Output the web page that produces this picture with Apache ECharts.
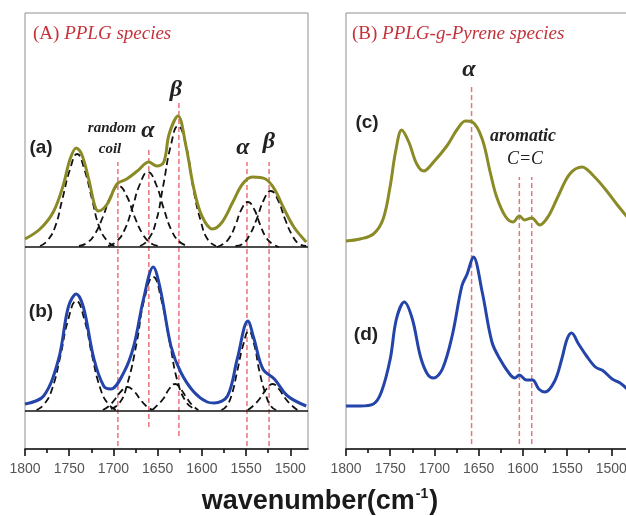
<!DOCTYPE html>
<html>
<head>
<meta charset="utf-8">
<script src="https://cdn.jsdelivr.net/npm/echarts@6/dist/echarts.min.js"></script>
<style>
html,body{margin:0;padding:0;background:#fff;}
#chart{width:626px;height:516px;}
</style>
</head>
<body>
<div id="chart"></div>
<script>
// ---- Data (wavenumber cm^-1, relative intensity) ----
const wavenumberTicks = [1800, 1750, 1700, 1650, 1600, 1550, 1500];
const minorTicks = [1775, 1725, 1675, 1625, 1575, 1525];

// (a) PPLG species, measured spectrum
const curveA = [[1800,210],[1783,220],[1768,237],[1757,263],[1749,290],[1742,301],[1736,295],[1728,270],[1721,243],[1717,238],[1707,245],[1696,265],[1685,270],[1673,278],[1660,287],[1651,283],[1643,287],[1637,315],[1627,333],[1618,303],[1609,260],[1600,233],[1588,220],[1577,227],[1565,247],[1554,265],[1543,272],[1528,270],[1518,260],[1507,240],[1496,222],[1482,207]];
const baselineA = 202;
// (a) deconvoluted bands
const peakA1 = [[1783,203],[1775,208],[1766,222],[1758,249],[1749,280],[1741,295],[1733,280],[1724,249],[1716,222],[1707,208],[1699,203]];
const peakA2 = [[1739,203],[1730,206],[1721,215],[1712,232],[1703,253],[1694,263],[1685,253],[1676,232],[1667,215],[1658,206],[1649,203]];
const peakA3 = [[1706,203],[1697,207],[1688,218],[1679,240],[1670,265],[1661,277],[1652,265],[1643,240],[1634,218],[1625,207],[1616,203]];
const peakA4 = [[1670,203],[1661,209],[1652,227],[1644,262],[1635,304],[1627,323],[1618,304],[1610,262],[1601,227],[1593,209],[1584,203]];
const peakA5 = [[1583,202],[1576,205],[1569,211],[1562,224],[1555,240],[1548,247],[1541,240],[1534,224],[1527,211],[1520,205],[1513,202]];
const peakA6 = [[1562,203],[1554,205],[1546,214],[1538,230],[1530,249],[1522,258],[1514,249],[1506,230],[1498,214],[1490,205],[1482,203]];

// (b) PPLG species, measured spectrum
const curveB = [[1800,45],[1779,53],[1762,90],[1751,142],[1742,155],[1734,142],[1722,90],[1711,63],[1703,60],[1688,77],[1677,103],[1666,150],[1655,182],[1647,160],[1635,103],[1624,77],[1609,57],[1594,47],[1586,46],[1571,53],[1560,90],[1548,128],[1541,110],[1531,80],[1518,70],[1503,53],[1482,43]];
const baselineB = 38;
// (b) deconvoluted bands
const peakB1 = [[1787,39],[1778,45],[1769,61],[1760,93],[1751,130],[1742,148],[1733,130],[1724,93],[1715,61],[1706,45],[1697,39]];
const peakB2 = [[1712,39],[1705,43],[1698,50],[1691,58],[1684,62],[1677,58],[1670,50],[1663,43],[1656,39]];
const peakB3 = [[1703,40],[1693,46],[1684,66],[1674,105],[1665,150],[1655,172],[1646,150],[1636,105],[1627,66],[1617,46],[1608,40]];
const peakB4 = [[1656,39],[1650,44],[1643,51],[1637,60],[1630,65],[1624,60],[1617,51],[1611,44],[1604,39]];
const peakB5 = [[1578,39],[1572,43],[1566,55],[1560,78],[1553,105],[1547,118],[1541,105],[1535,78],[1528,55],[1522,43],[1516,39]];
const peakB6 = [[1548,39],[1541,44],[1534,51],[1527,60],[1520,65],[1513,60],[1506,51],[1499,44],[1492,39]];

// (c), (d) PPLG-g-Pyrene species
const curveC = [[1800,208],[1784,210],[1769,215],[1758,230],[1750,263],[1744,297],[1737,319],[1729,307],[1720,285],[1712,278],[1701,287],[1686,303],[1674,320],[1665,328],[1657,327],[1646,310],[1637,277],[1630,253],[1620,233],[1611,227],[1604,233],[1598,229],[1590,231],[1581,224],[1571,233],[1560,253],[1547,275],[1533,282],[1520,273],[1507,260],[1494,245],[1482,232]];
const curveD = [[1800,43],[1784,43],[1769,45],[1760,57],[1750,90],[1743,130],[1734,147],[1725,130],[1716,93],[1708,75],[1701,71],[1691,80],[1680,113],[1669,163],[1663,175],[1656,192],[1646,157],[1635,107],[1626,90],[1615,75],[1609,71],[1604,74],[1596,69],[1589,69],[1582,60],[1575,57],[1564,68],[1556,90],[1550,110],[1545,116],[1537,105],[1528,93],[1518,82],[1509,78],[1499,70],[1490,66],[1482,60]];

// Band-assignment guide lines: [wavenumber, lower value, upper value]
const guidesLeft = [[1695,3,287],[1660,22,300],[1626,13,347],[1549,3,287],[1524,3,287]];
const guidesRight = [[1658,5,362],[1604,5,272],[1590,5,272]];

// Texts
const panelTitles = [['(A) ', 'PPLG species'], ['(B) ', 'PPLG-g-Pyrene species']];
const curveLabels = ['(a)', '(b)', '(c)', '(d)'];
const axisTitle = ['wavenumber(cm', '-1', ')'];

// ---- Chart ----
const OLIVE = '#8a8b26', BLUE = '#2444aa', RED = '#c4323a', GUIDE = '#e8747c';
const chart = echarts.init(document.getElementById('chart'), null, {renderer: 'canvas'});

function grid(left) {
  return {left: left, top: 13, width: 283, height: 436, show: true, outerBoundsMode: 'none',
    borderColor: '#8f8f8f', borderWidth: 1, backgroundColor: 'transparent', containLabel: false};
}
function majorX(g) {
  return {gridIndex: g, type: 'value', position: 'bottom', inverse: true, min: 1480, max: 1800,
    axisLine: {show: true, lineStyle: {color: '#111', width: 1.6}},
    axisTick: {show: true, customValues: wavenumberTicks, length: 7, lineStyle: {color: '#111', width: 1.6}},
    axisLabel: {show: true, customValues: wavenumberTicks, color: '#555', fontSize: 14,
      fontFamily: 'Liberation Sans', margin: 13, formatter: function (v) { return String(v); }},
    splitLine: {show: false}};
}
function minorX(g) {
  return {gridIndex: g, type: 'value', position: 'bottom', inverse: true, min: 1480, max: 1800,
    axisLine: {show: false},
    axisTick: {show: true, customValues: minorTicks, length: 4, lineStyle: {color: '#111', width: 1.6}},
    axisLabel: {show: false}, splitLine: {show: false}};
}
function yAx(g) {
  return {gridIndex: g, type: 'value', min: 0, max: 436, show: false};
}

const series = [];
function guide(list, xi, yi) {
  list.forEach(function (gd) {
    series.push({type: 'line', xAxisIndex: xi, yAxisIndex: yi, data: [[gd[0], gd[1]], [gd[0], gd[2]]],
      showSymbol: false, silent: true, z: 1,
      lineStyle: {color: GUIDE, width: 1.5, type: [5, 3]}});
  });
}
function dashedPeak(d, xi, yi) {
  series.push({type: 'line', xAxisIndex: xi, yAxisIndex: yi, data: d, smooth: 0.5,
    showSymbol: false, silent: true, z: 2,
    lineStyle: {color: '#111', width: 1.8, type: [7, 4]}});
}
function baseline(v, xi, yi) {
  series.push({type: 'line', xAxisIndex: xi, yAxisIndex: yi, data: [[1800, v], [1480, v]],
    showSymbol: false, silent: true, z: 2, lineStyle: {color: '#111', width: 1.6}});
}
function curve(d, color, xi, yi) {
  series.push({type: 'line', xAxisIndex: xi, yAxisIndex: yi, data: d, smooth: 0.35,
    showSymbol: false, silent: true, z: 3, lineStyle: {color: color, width: 3}});
}

guide(guidesLeft, 0, 0);
guide(guidesRight, 2, 1);
baseline(baselineA, 0, 0);
baseline(baselineB, 0, 0);
[peakA1, peakA2, peakA3, peakA4, peakA5, peakA6].forEach(function (p) { dashedPeak(p, 0, 0); });
[peakB1, peakB2, peakB3, peakB4, peakB5, peakB6].forEach(function (p) { dashedPeak(p, 0, 0); });
curve(curveA, OLIVE, 0, 0);
curve(curveB, BLUE, 0, 0);
curve(curveC, OLIVE, 2, 1);
curve(curveD, BLUE, 2, 1);

function txt(x, y, text, font, color, align) {
  return {type: 'text', x: x, y: y, silent: true, z: 10,
    style: {text: text, font: font, fill: color || '#111', align: align || 'center', verticalAlign: 'middle'}};
}
const serifBI = '"Liberation Serif", "DejaVu Serif", serif';
function panelTitle(x, t) {
  return {type: 'text', x: x, y: 34, z: 10, silent: true,
    style: {text: '{u|' + t[0] + '}{i|' + t[1] + '}', align: 'left', verticalAlign: 'middle',
      rich: {u: {fontFamily: serifBI, fontSize: 19, fill: RED},
             i: {fontFamily: serifBI, fontSize: 19, fontStyle: 'italic', fill: RED}}}};
}
const graphics = [
  panelTitle(33, panelTitles[0]),
  panelTitle(352, panelTitles[1]),
  txt(41, 148, curveLabels[0], 'bold 19px "Liberation Sans"', '#222'),
  txt(41, 312, curveLabels[1], 'bold 19px "Liberation Sans"', '#222'),
  txt(367, 123, curveLabels[2], 'bold 19px "Liberation Sans"', '#222'),
  txt(366, 335, curveLabels[3], 'bold 19px "Liberation Sans"', '#222'),
  txt(112, 128, 'random', 'italic bold 15px ' + serifBI, '#222'),
  txt(110, 149, 'coil', 'italic bold 15px ' + serifBI, '#222'),
  txt(148, 131, 'α', 'italic bold 24px ' + serifBI, '#222'),
  txt(176, 90, 'β', 'italic bold 24px ' + serifBI, '#222'),
  txt(243, 148, 'α', 'italic bold 24px ' + serifBI, '#222'),
  txt(269, 142, 'β', 'italic bold 24px ' + serifBI, '#222'),
  txt(469, 70, 'α', 'italic bold 24px ' + serifBI, '#222'),
  txt(523, 136, 'aromatic', 'italic bold 18px ' + serifBI, '#222'),
  txt(525, 159, 'C=C', 'italic 18px ' + serifBI, '#222'),
  {type: 'text', x: 320, y: 502, z: 10, silent: true,
    style: {text: '{m|' + axisTitle[0] + '}{s|' + axisTitle[1] + '}{m|' + axisTitle[2] + '}',
      align: 'center', verticalAlign: 'middle',
      rich: {m: {fontFamily: 'Liberation Sans', fontWeight: 'bold', fontSize: 27, fill: '#1a1a1a', lineHeight: 30},
             s: {fontFamily: 'Liberation Sans', fontWeight: 'bold', fontSize: 14, fill: '#1a1a1a', lineHeight: 30, verticalAlign: 'top', padding: [0, 1, 12, 1]}}}}
];

chart.setOption({
  animation: false,
  backgroundColor: '#fff',
  grid: [grid(25), grid(346)],
  xAxis: [majorX(0), minorX(0), majorX(1), minorX(1)],
  yAxis: [yAx(0), yAx(1)],
  series: series,
  graphic: graphics
});
</script>
</body>
</html>
